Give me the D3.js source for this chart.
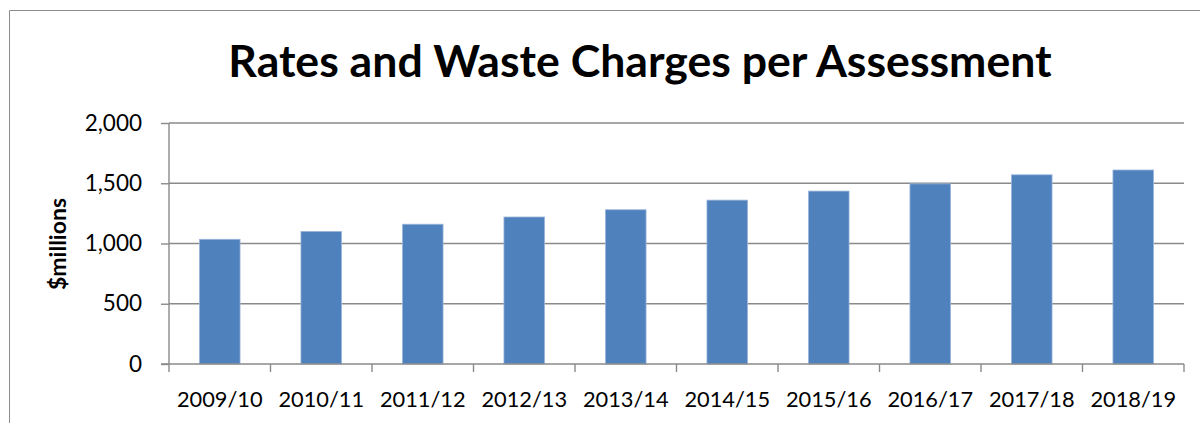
<!DOCTYPE html>
<html>
<head>
<meta charset="utf-8">
<script src="https://cdn.jsdelivr.net/npm/d3@7"></script>
<style>
  body { margin: 0; background: #fff; }
  svg { display: block; font-family: Lato, "Open Sans", sans-serif; }
</style>
</head>
<body>
<svg id="chart" width="1200" height="423"></svg>
<script>
// data
var years = ["2009/10", "2010/11", "2011/12", "2012/13", "2013/14",
             "2014/15", "2015/16", "2016/17", "2017/18", "2018/19"];
var charges = [1035, 1100, 1160, 1220, 1280, 1360, 1435, 1495, 1570, 1610];
var yTicks = [0, 500, 1000, 1500, 2000];

var svg = d3.select("#chart");
var margin = { left: 169, right: 16, top: 123, bottom: 59 };
var width = 1200 - margin.left - margin.right;
var height = 423 - margin.top - margin.bottom;

// outer chart frame (right edge is cut off in the picture)
svg.append("path")
    .attr("d", "M9.5,423 V10.5 H1200")
    .attr("fill", "none")
    .attr("stroke", "#8c8c8c")
    .attr("stroke-width", 1);

svg.append("text")
    .attr("x", 640)
    .attr("y", 77)
    .attr("text-anchor", "middle")
    .style("font-size", "44.6px")
    .style("font-weight", "bold")
    .text("Rates and Waste Charges per Assessment");

var g = svg.append("g")
    .attr("transform", "translate(" + margin.left + "," + margin.top + ")");

var x = d3.scaleBand().domain(years).range([0, width]).paddingInner(0.6).paddingOuter(0.3);
var xTick = d3.scaleBand().domain(years).range([0, width]);
var y = d3.scaleLinear().domain([0, 2000]).range([height, 0]);

// gridlines
g.selectAll(".grid")
    .data(yTicks.slice(1))
    .enter().append("line")
    .attr("class", "grid")
    .attr("x1", 0).attr("x2", width)
    .attr("y1", function(d){ return y(d); })
    .attr("y2", function(d){ return y(d); })
    .attr("stroke", "#8a8a8a")
    .attr("stroke-width", 1.4);

// bars
g.selectAll(".bar")
    .data(charges)
    .enter().append("rect")
    .attr("class", "bar")
    .attr("x", function(d, i){ return x(years[i]); })
    .attr("width", x.bandwidth())
    .attr("y", function(d){ return y(d); })
    .attr("height", function(d){ return height - y(d); })
    .attr("fill", "#4f81bd")
    .attr("stroke", "#9bb6dc")
    .attr("stroke-width", 0.8);

// y axis
var yAxis = g.append("g")
    .call(d3.axisLeft(y).tickValues(yTicks).tickSize(8).tickPadding(19)
        .tickFormat(d3.format(",")));
yAxis.select(".domain").attr("stroke", "#8a8a8a").attr("stroke-width", 1.4)
    .attr("d", "M0," + height + "V0");
yAxis.selectAll(".tick line").attr("stroke", "#8a8a8a").attr("stroke-width", 1.4);
yAxis.selectAll(".tick text").style("font-size", "22.5px").attr("fill", "#000")
    .style("font-family", "Lato, sans-serif");

// x axis
var xAxisG = g.append("g").attr("transform", "translate(0," + height + ")");
xAxisG.append("line")
    .attr("x1", -8).attr("x2", width)
    .attr("stroke", "#8a8a8a").attr("stroke-width", 1.4);
xAxisG.selectAll(".xt")
    .data(years.concat(["end"]))
    .enter().append("line")
    .attr("class", "xt")
    .attr("x1", function(d, i){ return i * xTick.bandwidth(); })
    .attr("x2", function(d, i){ return i * xTick.bandwidth(); })
    .attr("y1", 0).attr("y2", 8)
    .attr("stroke", "#8a8a8a").attr("stroke-width", 1.4);
xAxisG.selectAll(".xl")
    .data(years)
    .enter().append("text")
    .attr("class", "xl")
    .attr("x", function(d){ return xTick(d) + xTick.bandwidth() / 2; })
    .attr("y", 43)
    .attr("text-anchor", "middle")
    .style("font-size", "21.8px")
    .text(function(d){ return d; });

// y axis title
svg.append("text")
    .attr("transform", "translate(66," + 244 + ") rotate(-90)")
    .attr("text-anchor", "middle")
    .style("font-size", "23px")
    .style("font-weight", "bold")
    .text("$millions");
</script>
</body>
</html>
